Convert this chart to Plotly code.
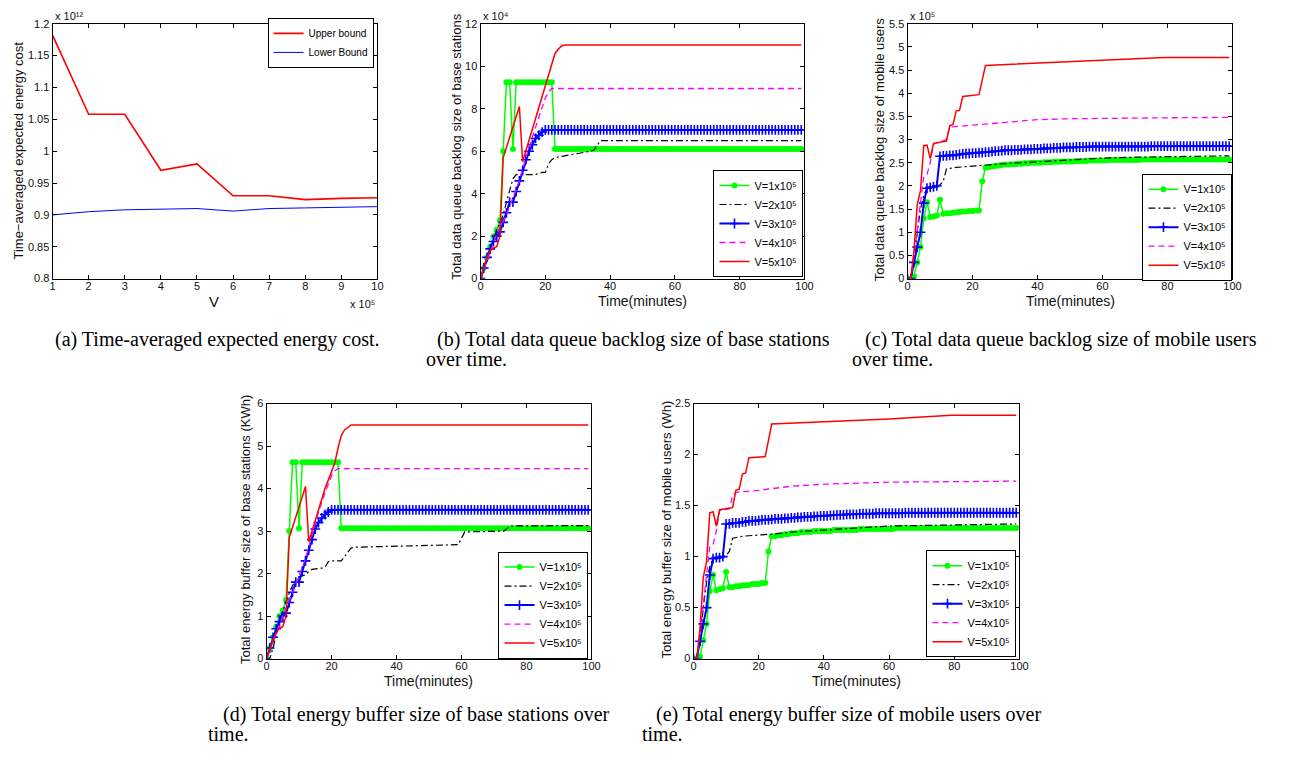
import plotly.graph_objects as go

W, H = 1289, 762

# ---------------- data ----------------
t = list(range(100))

# (a) time-averaged expected energy cost (x 10^12) vs V (x 10^5)
V_vals = [1, 2, 3, 4, 5, 6, 7, 8, 9, 10]
upper_bound = [1.182, 1.058, 1.058, 0.970, 0.980, 0.930, 0.930, 0.924, 0.926, 0.927]
lower_bound = [0.900, 0.905, 0.908, 0.909, 0.910, 0.906, 0.910, 0.911, 0.912, 0.913]

# (b) total data queue backlog of base stations (x 10^4)
b_v1 = [0, 0.5, 1.0, 1.5, 2.0, 2.3, 2.75, 6.0, 9.25, 9.25,
        6.1, 9.25, 9.25, 9.25, 9.25, 9.25, 9.25, 9.25, 9.25, 9.25,
        9.25, 9.25, 9.25, 6.1, 6.1, 6.1, 6.1, 6.1, 6.1, 6.1,
        6.1, 6.1, 6.1, 6.1, 6.1, 6.1, 6.1, 6.1, 6.1, 6.1,
        6.1, 6.1, 6.1, 6.1, 6.1, 6.1, 6.1, 6.1, 6.1, 6.1,
        6.1, 6.1, 6.1, 6.1, 6.1, 6.1, 6.1, 6.1, 6.1, 6.1,
        6.1, 6.1, 6.1, 6.1, 6.1, 6.1, 6.1, 6.1, 6.1, 6.1,
        6.1, 6.1, 6.1, 6.1, 6.1, 6.1, 6.1, 6.1, 6.1, 6.1,
        6.1, 6.1, 6.1, 6.1, 6.1, 6.1, 6.1, 6.1, 6.1, 6.1,
        6.1, 6.1, 6.1, 6.1, 6.1, 6.1, 6.1, 6.1, 6.1, 6.1]
b_v2_t = [0, 1, 2, 3, 4, 5, 6, 7, 8, 9, 10, 11, 12, 17, 19, 20, 21, 22, 23, 27, 30, 34, 35, 36, 37, 99]
b_v2 = [0, 0.4, 0.9, 1.4, 1.9, 2.3, 2.6, 3.0, 3.6, 4.2, 4.7, 4.9, 4.9, 4.9, 5.0, 5.0, 5.4, 5.6, 5.7, 5.8, 5.9, 6.0, 6.05, 6.3, 6.5, 6.5]
b_v3 = [0, 0.5, 1.0, 1.4, 1.75, 2.0, 2.2, 2.65, 3.1, 3.6,
        3.6, 4.1, 4.6, 5.1, 5.6, 6.0, 6.3, 6.6, 6.75, 6.9,
        7.0, 7.0, 7.0, 7.0, 7.0, 7.0, 7.0, 7.0, 7.0, 7.0,
        7.0, 7.0, 7.0, 7.0, 7.0, 7.0, 7.0, 7.0, 7.0, 7.0,
        7.0, 7.0, 7.0, 7.0, 7.0, 7.0, 7.0, 7.0, 7.0, 7.0,
        7.0, 7.0, 7.0, 7.0, 7.0, 7.0, 7.0, 7.0, 7.0, 7.0,
        7.0, 7.0, 7.0, 7.0, 7.0, 7.0, 7.0, 7.0, 7.0, 7.0,
        7.0, 7.0, 7.0, 7.0, 7.0, 7.0, 7.0, 7.0, 7.0, 7.0,
        7.0, 7.0, 7.0, 7.0, 7.0, 7.0, 7.0, 7.0, 7.0, 7.0,
        7.0, 7.0, 7.0, 7.0, 7.0, 7.0, 7.0, 7.0, 7.0, 7.0]
b_v4_t = [0, 5, 8, 10, 12, 14, 16, 18, 20, 21, 22, 99]
b_v4 = [0, 2.1, 3.0, 3.8, 4.6, 5.7, 6.7, 7.6, 8.5, 8.8, 8.95, 8.95]
b_v5_t = [0, 1, 2, 3, 4, 5, 6, 7, 12, 13, 14, 16, 18, 20, 21, 22, 23, 24, 25, 26, 99]
b_v5 = [0, 0.5, 1.0, 1.3, 1.45, 1.5, 2.0, 5.7, 8.1, 5.5, 6.0, 7.0, 8.0, 9.1, 9.6, 10.1, 10.6, 10.8, 10.95, 11.0, 11.0]

# (c) total data queue backlog of mobile users (x 10^5)
c_v1 = [0, 0, 0.05, 0.35, 0.68, 1.3, 1.65, 1.33, 1.34, 1.36,
        1.7, 1.4, 1.41, 1.41, 1.42, 1.43, 1.44, 1.45, 1.45, 1.46,
        1.46, 1.47, 1.47, 2.1, 2.4, 2.41, 2.42, 2.43, 2.44, 2.45,
        2.46, 2.46, 2.47, 2.47, 2.48, 2.48, 2.49, 2.49, 2.5, 2.5,
        2.5, 2.5, 2.51, 2.51, 2.51, 2.52, 2.52, 2.52, 2.53, 2.53,
        2.53, 2.53, 2.54, 2.54, 2.54, 2.54, 2.55, 2.55, 2.55, 2.55,
        2.55, 2.55, 2.56, 2.56, 2.56, 2.56, 2.56, 2.56, 2.56, 2.56,
        2.56, 2.56, 2.57, 2.57, 2.57, 2.57, 2.57, 2.57, 2.57, 2.57,
        2.57, 2.57, 2.57, 2.57, 2.57, 2.57, 2.57, 2.57, 2.57, 2.57,
        2.57, 2.57, 2.57, 2.57, 2.57, 2.57, 2.57, 2.57, 2.57, 2.57]
c_v2_t = [0, 1, 2, 3, 4, 5, 6, 10, 11, 12, 15, 20, 24, 30, 40, 50, 60, 70, 80, 99]
c_v2 = [0, 0, 0.3, 1.0, 1.5, 1.8, 1.95, 2.02, 2.1, 2.37, 2.4, 2.43, 2.45, 2.48, 2.52, 2.56, 2.6, 2.62, 2.63, 2.65]
c_v3 = [0, 0, 0.35, 0.68, 1.0, 1.63, 1.95, 1.97, 1.98, 2.0,
        2.64, 2.65, 2.65, 2.66, 2.66, 2.67, 2.68, 2.69, 2.7, 2.7,
        2.71, 2.71, 2.72, 2.72, 2.73, 2.73, 2.74, 2.75, 2.75, 2.76,
        2.77, 2.77, 2.77, 2.78, 2.78, 2.78, 2.79, 2.79, 2.79, 2.8,
        2.8, 2.8, 2.81, 2.81, 2.81, 2.82, 2.82, 2.82, 2.83, 2.83,
        2.83, 2.83, 2.84, 2.84, 2.84, 2.84, 2.85, 2.85, 2.85, 2.85,
        2.85, 2.85, 2.85, 2.85, 2.85, 2.85, 2.85, 2.85, 2.85, 2.85,
        2.85, 2.85, 2.85, 2.85, 2.85, 2.86, 2.86, 2.86, 2.86, 2.86,
        2.86, 2.86, 2.86, 2.86, 2.86, 2.86, 2.86, 2.86, 2.86, 2.86,
        2.86, 2.86, 2.86, 2.86, 2.86, 2.86, 2.86, 2.86, 2.86, 2.86]
c_v4_t = [0, 1, 2, 3, 4, 5, 6, 7, 8, 10, 12, 13, 20, 30, 40, 50, 60, 80, 99]
c_v4 = [0, 0, 0.5, 1.1, 1.6, 2.2, 2.25, 2.5, 2.9, 2.95, 3.0, 3.27, 3.31, 3.38, 3.43, 3.45, 3.46, 3.47, 3.48]
c_v5_t = [0, 1, 2, 3, 4, 5, 6, 7, 8, 12, 13, 14, 15, 16, 17, 22, 24, 40, 60, 79, 99]
c_v5 = [0, 0, 0.6, 1.6, 1.9, 2.87, 2.88, 2.59, 2.92, 2.97, 3.3, 3.32, 3.62, 3.63, 3.93, 3.97, 4.6, 4.65, 4.7, 4.77, 4.77]

# (d) total energy buffer of base stations (KWh)
d_v1 = [0, 0.25, 0.5, 0.75, 1.0, 1.13, 1.38, 3.0, 4.62, 4.62,
        3.07, 4.62, 4.62, 4.62, 4.62, 4.62, 4.62, 4.62, 4.62, 4.62,
        4.62, 4.62, 4.62, 3.07, 3.07, 3.07, 3.07, 3.07, 3.07, 3.07,
        3.07, 3.07, 3.07, 3.07, 3.07, 3.07, 3.07, 3.07, 3.07, 3.07,
        3.07, 3.07, 3.07, 3.07, 3.07, 3.07, 3.07, 3.07, 3.07, 3.07,
        3.07, 3.07, 3.07, 3.07, 3.07, 3.07, 3.07, 3.07, 3.07, 3.07,
        3.07, 3.07, 3.07, 3.07, 3.07, 3.07, 3.07, 3.07, 3.07, 3.07,
        3.07, 3.07, 3.07, 3.07, 3.07, 3.07, 3.07, 3.07, 3.07, 3.07,
        3.07, 3.07, 3.07, 3.07, 3.07, 3.07, 3.07, 3.07, 3.07, 3.07,
        3.07, 3.07, 3.07, 3.07, 3.07, 3.07, 3.07, 3.07, 3.07, 3.07]
d_v2_t = [0, 1, 2, 3, 4, 5, 6, 7, 8, 9, 10, 11, 12, 13, 14, 17, 18, 19, 20, 23, 24, 25, 26, 27, 40, 59, 60, 61, 73, 74, 75, 99]
d_v2 = [0, 0, 0.25, 0.6, 0.88, 1.12, 1.35, 1.55, 1.72, 1.85, 1.93, 1.95, 1.97, 2.05, 2.1, 2.13, 2.15, 2.28, 2.3, 2.3, 2.4, 2.5, 2.6, 2.62, 2.65, 2.68, 2.83, 2.98, 3.0, 3.07, 3.12, 3.13]
d_v3 = [0, 0.25, 0.5, 0.7, 0.87, 1.0, 1.07, 1.32, 1.56, 1.8,
        1.8, 2.05, 2.3, 2.55, 2.8, 3.05, 3.2, 3.31, 3.39, 3.45,
        3.5, 3.5, 3.5, 3.5, 3.5, 3.5, 3.5, 3.5, 3.5, 3.5,
        3.5, 3.5, 3.5, 3.5, 3.5, 3.5, 3.5, 3.5, 3.5, 3.5,
        3.5, 3.5, 3.5, 3.5, 3.5, 3.5, 3.5, 3.5, 3.5, 3.5,
        3.5, 3.5, 3.5, 3.5, 3.5, 3.5, 3.5, 3.5, 3.5, 3.5,
        3.5, 3.5, 3.5, 3.5, 3.5, 3.5, 3.5, 3.5, 3.5, 3.5,
        3.5, 3.5, 3.5, 3.5, 3.5, 3.5, 3.5, 3.5, 3.5, 3.5,
        3.5, 3.5, 3.5, 3.5, 3.5, 3.5, 3.5, 3.5, 3.5, 3.5,
        3.5, 3.5, 3.5, 3.5, 3.5, 3.5, 3.5, 3.5, 3.5, 3.5]
d_v4_t = [0, 5, 8, 10, 12, 14, 16, 18, 20, 21, 22, 99]
d_v4 = [0, 1.0, 1.55, 1.95, 2.35, 2.9, 3.45, 3.9, 4.3, 4.42, 4.47, 4.47]
d_v5_t = [0, 1, 2, 3, 4, 5, 6, 7, 12, 13, 14, 16, 18, 20, 21, 22, 23, 24, 25, 26, 99]
d_v5 = [0, 0.25, 0.45, 0.6, 0.72, 0.75, 1.0, 2.85, 4.05, 2.75, 3.0, 3.5, 4.0, 4.4, 4.6, 4.95, 5.25, 5.38, 5.45, 5.5, 5.5]

# (e) total energy buffer of mobile users (Wh)
e_v1 = [0, 0, 0.02, 0.18, 0.34, 0.66, 0.82, 0.67, 0.68, 0.69,
        0.85, 0.7, 0.7, 0.71, 0.71, 0.72, 0.72, 0.72, 0.73, 0.73,
        0.73, 0.74, 0.74, 1.05, 1.2, 1.2, 1.21, 1.21, 1.22, 1.22,
        1.23, 1.23, 1.23, 1.24, 1.24, 1.24, 1.24, 1.25, 1.25, 1.25,
        1.25, 1.25, 1.25, 1.26, 1.26, 1.26, 1.26, 1.26, 1.26, 1.26,
        1.26, 1.27, 1.27, 1.27, 1.27, 1.27, 1.27, 1.27, 1.27, 1.27,
        1.27, 1.27, 1.28, 1.28, 1.28, 1.28, 1.28, 1.28, 1.28, 1.28,
        1.28, 1.28, 1.28, 1.28, 1.28, 1.28, 1.28, 1.28, 1.28, 1.28,
        1.28, 1.28, 1.28, 1.28, 1.28, 1.28, 1.28, 1.28, 1.28, 1.28,
        1.28, 1.28, 1.28, 1.28, 1.28, 1.28, 1.28, 1.28, 1.28, 1.28]
e_v2_t = [0, 1, 2, 3, 4, 5, 6, 10, 11, 12, 15, 20, 24, 30, 40, 50, 60, 70, 80, 99]
e_v2 = [0, 0, 0.17, 0.5, 0.75, 0.9, 0.98, 1.01, 1.05, 1.18, 1.2, 1.21, 1.22, 1.24, 1.26, 1.28, 1.3, 1.305, 1.31, 1.32]
e_v3 = [0, 0, 0.17, 0.34, 0.5, 0.82, 0.98, 0.99, 0.99, 1.0,
        1.32, 1.32, 1.33, 1.33, 1.33, 1.34, 1.34, 1.35, 1.35, 1.35,
        1.355, 1.36, 1.36, 1.36, 1.365, 1.37, 1.37, 1.37, 1.375, 1.375,
        1.38, 1.38, 1.385, 1.385, 1.39, 1.39, 1.39, 1.395, 1.395, 1.4,
        1.4, 1.4, 1.405, 1.405, 1.41, 1.41, 1.41, 1.415, 1.415, 1.415,
        1.415, 1.42, 1.42, 1.42, 1.42, 1.42, 1.425, 1.425, 1.425, 1.425,
        1.425, 1.425, 1.425, 1.425, 1.425, 1.43, 1.43, 1.43, 1.43, 1.43,
        1.43, 1.43, 1.43, 1.43, 1.43, 1.43, 1.43, 1.43, 1.43, 1.43,
        1.43, 1.43, 1.43, 1.43, 1.43, 1.43, 1.43, 1.43, 1.43, 1.43,
        1.43, 1.43, 1.43, 1.43, 1.43, 1.43, 1.43, 1.43, 1.43, 1.43]
e_v4_t = [0, 1, 2, 3, 4, 5, 6, 7, 8, 11, 12, 13, 20, 30, 40, 50, 60, 80, 99]
e_v4 = [0, 0, 0.25, 0.55, 0.8, 1.1, 1.12, 1.25, 1.45, 1.47, 1.6, 1.63, 1.65, 1.69, 1.71, 1.72, 1.73, 1.735, 1.74]
e_v5_t = [0, 1, 2, 3, 4, 5, 6, 7, 8, 12, 13, 14, 15, 16, 17, 22, 24, 40, 60, 79, 99]
e_v5 = [0, 0, 0.3, 0.8, 0.95, 1.43, 1.44, 1.3, 1.46, 1.48, 1.65, 1.66, 1.81, 1.82, 1.97, 1.98, 2.3, 2.32, 2.35, 2.385, 2.385]

legend_a = ["Upper bound", "Lower Bound"]
legend_v = ["V=1x10\u2075", "V=2x10\u2075", "V=3x10\u2075", "V=4x10\u2075", "V=5x10\u2075"]

x_time_ticks = [0, 20, 40, 60, 80, 100]
x_time_labels = ["0", "20", "40", "60", "80", "100"]
a_xticks = [1, 2, 3, 4, 5, 6, 7, 8, 9, 10]
a_xlabels = ["1", "2", "3", "4", "5", "6", "7", "8", "9", "10"]
a_yticks = [0.8, 0.85, 0.9, 0.95, 1.0, 1.05, 1.1, 1.15, 1.2]
a_ylabels = ["0.8", "0.85", "0.9", "0.95", "1", "1.05", "1.1", "1.15", "1.2"]
b_yticks = [0, 2, 4, 6, 8, 10, 12]
b_ylabels = ["0", "2", "4", "6", "8", "10", "12"]
c_yticks = [0, 0.5, 1, 1.5, 2, 2.5, 3, 3.5, 4, 4.5, 5, 5.5]
c_ylabels = ["0", "0.5", "1", "1.5", "2", "2.5", "3", "3.5", "4", "4.5", "5", "5.5"]
d_yticks = [0, 1, 2, 3, 4, 5, 6]
d_ylabels = ["0", "1", "2", "3", "4", "5", "6"]
e_yticks = [0, 0.5, 1, 1.5, 2, 2.5]
e_ylabels = ["0", "0.5", "1", "1.5", "2", "2.5"]

y_titles = ["Time\u2212averaged expected energy cost",
            "Total data queue backlog size of base stations",
            "Total data queue backlog size of mobile users",
            "Total energy buffer size of base stations (KWh)",
            "Total energy buffer size of mobile users (Wh)"]
x_titles = ["V", "Time(minutes)", "Time(minutes)", "Time(minutes)", "Time(minutes)"]
exponent_texts = ["x 10\u00b9\u00b2", "x 10\u2075", "x 10\u2074", "x 10\u2075"]

captions = [
    ["(a) Time-averaged expected energy cost."],
    ["(b) Total data queue backlog size of base stations", "over time."],
    ["(c) Total data queue backlog size of mobile users", "over time."],
    ["(d) Total energy buffer size of base stations over", "time."],
    ["(e) Total energy buffer size of mobile users over", "time."],
]

# ---------------- styles / layout ----------------
SANS = "Liberation Sans, Arial, sans-serif"
SERIF = "Liberation Serif, Times New Roman, serif"
TXT = "#111111"

# plot-area boxes in pixels: (left, right, top, bottom)
boxes = [(50, 378, 18, 277), (482, 809, 18, 277), (913, 1241, 18, 277),
         (266, 594, 404, 663), (697, 1026, 404, 663)]

def px(x):
    return x / W

def py(y):
    return 1 - y / H

styles = [
    dict(mode="lines+markers", line=dict(color="#00ff00", width=1.5),
         marker=dict(symbol="circle", size=6, color="#00ff00")),
    dict(mode="lines", line=dict(color="black", width=1.2, dash="7px,3px,2px,3px")),
    dict(mode="lines+markers", line=dict(color="#0000ff", width=2),
         marker=dict(symbol="cross-thin-open", size=7, color="#0000ff",
                     line=dict(color="#0000ff", width=1.6))),
    dict(mode="lines", line=dict(color="#ff00ff", width=1.3, dash="6px,4px")),
    dict(mode="lines", line=dict(color="#ff0000", width=1.5)),
]

fig = go.Figure()

# panel a
fig.add_trace(go.Scatter(x=V_vals, y=upper_bound, name=legend_a[0], mode="lines",
                         line=dict(color="#ff0000", width=1.6),
                         xaxis="x", yaxis="y", legend="legend"))
fig.add_trace(go.Scatter(x=V_vals, y=lower_bound, name=legend_a[1], mode="lines",
                         line=dict(color="#0000ff", width=1),
                         xaxis="x", yaxis="y", legend="legend"))

series = [
    [(t, b_v1), (b_v2_t, b_v2), (t, b_v3), (b_v4_t, b_v4), (b_v5_t, b_v5)],
    [(t, c_v1), (c_v2_t, c_v2), (t, c_v3), (c_v4_t, c_v4), (c_v5_t, c_v5)],
    [(t, d_v1), (d_v2_t, d_v2), (t, d_v3), (d_v4_t, d_v4), (d_v5_t, d_v5)],
    [(t, e_v1), (e_v2_t, e_v2), (t, e_v3), (e_v4_t, e_v4), (e_v5_t, e_v5)],
]
for p, panel in enumerate(series):
    k = str(p + 2)
    for s, (xs, ys) in enumerate(panel):
        fig.add_trace(go.Scatter(x=xs, y=ys, name=legend_v[s], xaxis="x" + k,
                                 yaxis="y" + k, legend="legend" + k, **styles[s]))

common = dict(showline=True, linecolor="black", linewidth=1, mirror="ticks",
              ticks="inside", ticklen=4, tickwidth=0.8, tickcolor="black",
              showgrid=False, zeroline=False,
              tickfont=dict(family=SANS, size=11, color=TXT))

xr = [[1, 10], [0, 100], [0, 100], [0, 100], [0, 100]]
yr = [[0.8, 1.2], [0, 12], [0, 5.5], [0, 6], [0, 2.5]]
xt = [(a_xticks, a_xlabels)] + [(x_time_ticks, x_time_labels)] * 4
yt = [(a_yticks, a_ylabels), (b_yticks, b_ylabels), (c_yticks, c_ylabels),
      (d_yticks, d_ylabels), (e_yticks, e_ylabels)]

layout = dict(width=W, height=H, margin=dict(l=0, r=0, t=0, b=0),
              paper_bgcolor="white", plot_bgcolor="white", showlegend=True)
for i, (l, r, tp, bt) in enumerate(boxes):
    k = "" if i == 0 else str(i + 1)
    layout["xaxis" + k] = dict(domain=[px(l), px(r)], anchor="y" + k, range=xr[i],
                               tickvals=xt[i][0], ticktext=xt[i][1],
                               ticklabelstandoff=-3, **common)
    layout["yaxis" + k] = dict(domain=[py(bt), py(tp)], anchor="x" + k, range=yr[i],
                               tickvals=yt[i][0], ticktext=yt[i][1], **common)

leg_common = dict(bgcolor="white", bordercolor="black", borderwidth=1,
                  font=dict(family=SANS, size=11, color="black"),
                  itemwidth=30, xanchor="right", yanchor="middle",
                  itemclick=False, itemdoubleclick=False)
# legend box (right edge, vertical centre) in pixels
leg_pos = [(374, 37.5), (808, 221), (1241, 224.7), (591, 608.7), (1023, 607.2)]
for i, (lx, ly) in enumerate(leg_pos):
    k = "" if i == 0 else str(i + 1)
    d = dict(leg_common)
    d.update(x=px(lx), y=py(ly))
    if i == 0:
        d["font"] = dict(family=SANS, size=10, color="black")
    layout["legend" + k] = d

ann = []
# y-axis titles
ytitle_pos = [(16, 147), (457, 143.3), (885, 145.8), (245, 531.7), (669.3, 531.7)]
for i, (x, y) in enumerate(ytitle_pos):
    ann.append(dict(text=y_titles[i], x=px(x), y=py(y), xref="paper", yref="paper",
                    textangle=-90, showarrow=False, xanchor="center", yanchor="middle",
                    font=dict(family=SANS, size=13, color=TXT)))
# x-axis titles
xtitle_pos = [(213, 300), (645.8, 300), (1077.2, 300), (429.8, 686), (861.5, 686)]
for i, (x, y) in enumerate(xtitle_pos):
    ann.append(dict(text=x_titles[i], x=px(x), y=py(y), xref="paper", yref="paper",
                    showarrow=False, xanchor="center", yanchor="middle",
                    font=dict(family=SANS, size=15 if i == 0 else 14, color=TXT)))
# exponent labels
expo_pos = [(50, 10, "left"), (378, 303, "right"), (482, 10, "left"), (913, 10, "left")]
for txt, (x, y, anc) in zip(exponent_texts, expo_pos):
    ann.append(dict(text=txt, x=px(x), y=py(y), xref="paper", yref="paper",
                    showarrow=False, xanchor=anc, yanchor="middle",
                    font=dict(family=SANS, size=11, color=TXT)))
# captions: (first-line centre x, left x, line-1 y, line-2 y)
cap_pos = [(217, 55, 339, 359), (636, 425, 339, 359), (1067.5, 855, 339, 359),
           (417.5, 205, 720, 740), (853, 643, 720, 740)]
for i, lines in enumerate(captions):
    cx, lx, y1, y2 = cap_pos[i]
    ann.append(dict(text=lines[0], x=px(cx), y=py(y1), xref="paper", yref="paper",
                    showarrow=False, xanchor="center", yanchor="middle",
                    font=dict(family=SERIF, size=20, color="black")))
    if len(lines) > 1:
        ann.append(dict(text=lines[1], x=px(lx), y=py(y2), xref="paper", yref="paper",
                        showarrow=False, xanchor="left", yanchor="middle",
                        font=dict(family=SERIF, size=20, color="black")))
layout["annotations"] = ann

fig.update_layout(**layout)

fig.write_html("out.html", config={"displayModeBar": False},
               post_script="document.body.style.margin='0';")
